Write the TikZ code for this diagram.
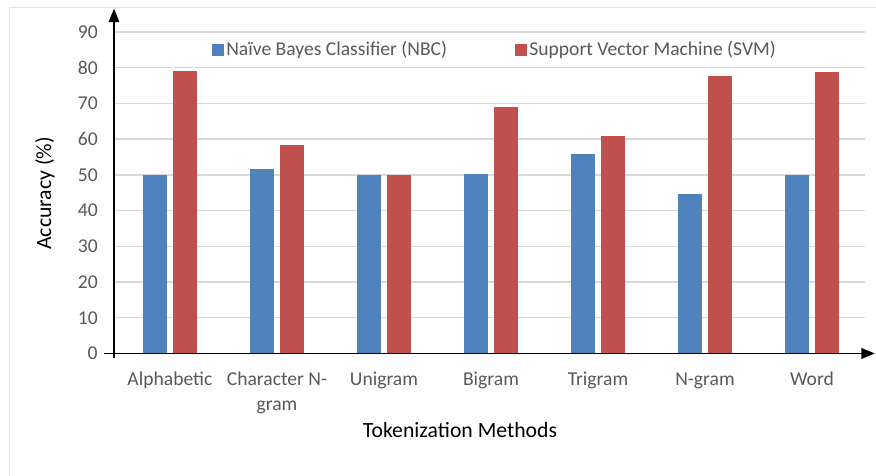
\documentclass[tikz,border=0pt]{standalone}
\usepackage{fontspec}
\setmainfont{Carlito}
\usetikzlibrary{arrows.meta,positioning}
\definecolor{nbcblue}{HTML}{4F81BD}
\definecolor{svmred}{HTML}{C0504D}
\definecolor{ticktext}{HTML}{595959}
\definecolor{gridgray}{HTML}{D9D9D9}
\definecolor{framegray}{HTML}{E3E3E3}
\tikzset{
  ticklabel/.style={text=ticktext, inner sep=0pt, font=\fontsize{14.7}{18.8}\selectfont},
  catlabel/.style={ticklabel, align=center},
  legtext/.style={ticklabel},
  legbox/.style={minimum size=9pt, inner sep=0pt},
  axistitle/.style={inner sep=0pt, font=\fontsize{16.3}{19.5}\selectfont},
  axisline/.style={line width=1pt, -{Triangle[length=10pt,width=8pt]}}
}
\begin{document}
\begin{tikzpicture}[x=80.25pt, y=2.679pt]
\useasboundingbox (-1.0654,-34.29) rectangle (7.1215,98.96);
\draw[framegray, line width=0.75pt] (-0.972,-34.29) -- (-0.972,96.72) -- (7.1215,96.72);

% grid and ticks
\foreach \y in {10,20,...,90}
  \draw[gridgray, line width=1pt] (0,\y) -- (7.02,\y);
\foreach \y in {0,10,...,90}
  \node[ticklabel, anchor=east] (tick\y) at (-0.15,\y) {\y};

% bars: NBC / SVM
\foreach \i/\a/\b in {0/50/79, 1/51.7/58.3, 2/50/50, 3/50.3/69.1, 4/55.8/61, 5/44.7/77.7, 6/50/78.7} {
  \fill[nbcblue] (\i+0.271,0) rectangle (\i+0.495,\a);
  \fill[svmred] (\i+0.551,0) rectangle (\i+0.775,\b);
}

% axes
\coordinate (ybot) at (0,-1.3);
\coordinate (ytop) at (0,96.5);
\coordinate (xleft) at (-0.09,0);
\coordinate (xright) at (7.11,0);
\draw[axisline] (ybot) -- (ytop);
\draw[axisline] (xleft) -- (xright);

% category labels (base = last line)
\foreach \i/\yb/\name in {0/-9.1/Alphabetic, 1/-16.1/{Character N-\\gram}, 2/-9.1/Unigram, 3/-9.1/Bigram, 4/-9.1/Trigram, 5/-9.1/N-gram, 6/-9.1/Word}
  \node[catlabel, anchor=base] (cat\i) at (\i+0.523,\yb) {\name};

\node[axistitle, anchor=base] (xtitle) at (3.234,-23.4) {Tokenization Methods};
\node[axistitle, rotate=90] (ytitle) at (-0.645,44.8) {Accuracy (\%)};

% legend
\node[legtext, anchor=west] (nbctext) at (1.047,85) {Naïve Bayes Classifier (NBC)};
\node[legbox, fill=nbcblue, left=1.5pt of nbctext] (nbcbox) {};
\node[legtext, anchor=west] (svmtext) at (3.879,85) {Support Vector Machine (SVM)};
\node[legbox, fill=svmred, left=1.5pt of svmtext] (svmbox) {};
\end{tikzpicture}
\end{document}
